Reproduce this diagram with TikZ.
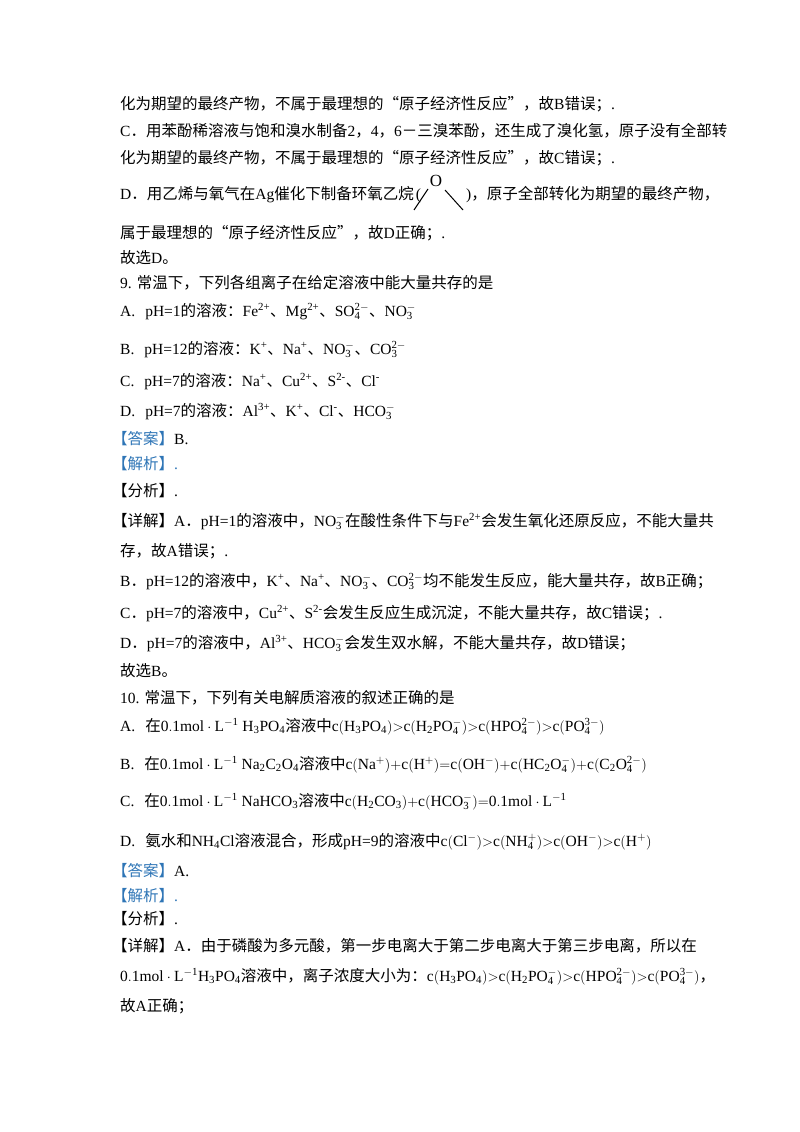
\documentclass[tikz,border=0pt]{standalone}
\usepackage{fontspec}
\setmainfont{Liberation Serif}
\newfontfamily\cjk{Noto Sans CJK SC}
\XeTeXinterchartokenstate=1
\newXeTeXintercharclass\cjkclass
\makeatletter
\def\setcjkrange#1#2{\count@=#1\relax\loop\XeTeXcharclass\count@=\cjkclass\ifnum\count@<#2\advance\count@ by 1\repeat}
\makeatother
\setcjkrange{"4E00}{"9FFF}
\setcjkrange{"3000}{"303F}
\setcjkrange{"FF00}{"FFEF}
\setcjkrange{"201C}{"201D}
\XeTeXinterchartoks 0 \cjkclass = {\begingroup\cjk}
\XeTeXinterchartoks 4095 \cjkclass = {\begingroup\cjk}
\XeTeXinterchartoks \cjkclass 0 = {\endgroup}
\XeTeXinterchartoks \cjkclass 4095 = {\endgroup}
\definecolor{ansblue}{RGB}{46,117,182}
\newcommand{\ch}[1]{$\mathrm{#1}$}
\begin{document}
\begin{tikzpicture}[x=1pt,y=-1pt,
  ln/.style={anchor=base west,inner sep=0pt,font=\fontsize{15.5}{18}\selectfont},
  bl/.style={ln,text=ansblue}]
\useasboundingbox (0,0) rectangle (800,1132);
\node[ln] (l1) at (120,109) {化为期望的最终产物，不属于最理想的“原子经济性反应”，故B错误；.};
\node[ln] (l2) at (120,136) {C．用苯酚稀溶液与饱和溴水制备2，4，6－三溴苯酚，还生成了溴化氢，原子没有全部转};
\node[ln] (l3) at (120,163) {化为期望的最终产物，不属于最理想的“原子经济性反应”，故C错误；.};
\node[ln] (l4a) at (120,199) {D．用乙烯与氧气在Ag催化下制备环氧乙烷\hspace{2pt}(};
\node[ln] (l4b) at (466,199) {)，原子全部转化为期望的最终产物，};
\draw[line width=1pt] (414,210) -- (428,189);
\node[inner sep=0pt,font=\fontsize{17}{18}\selectfont] (ox) at (436,181) {O};
\draw[line width=1pt] (445,190) -- (463,210);
\node[ln] (l5) at (120,238) {属于最理想的“原子经济性反应”，故D正确；.};
\node[ln] (l6) at (120,263) {故选D。};
\node[ln] (l7) at (120,288) {9. 常温下，下列各组离子在给定溶液中能大量共存的是};
\node[ln] (o1) at (120,316) {A.\hspace{10pt}pH=1的溶液：Fe\textsuperscript{2+}、Mg\textsuperscript{2+}、\ch{SO_4^{2-}}、\ch{NO_3^-}};
\node[ln] (o2) at (120,354) {B.\hspace{10pt}pH=12的溶液：K\textsuperscript{+}、Na\textsuperscript{+}、\ch{NO_3^-}、\ch{CO_3^{2-}}};
\node[ln] (o3) at (120,386) {C.\hspace{10pt}pH=7的溶液：Na\textsuperscript{+}、Cu\textsuperscript{2+}、S\textsuperscript{2-}、Cl\textsuperscript{-}};
\node[ln] (o4) at (120,416) {D.\hspace{10pt}pH=7的溶液：Al\textsuperscript{3+}、K\textsuperscript{+}、Cl\textsuperscript{-}、\ch{HCO_3^-}};
\node[bl] (a1) at (112,444) {【答案】\textcolor{black}{B.}};
\node[bl] (a2) at (112,469) {【解析】.};
\node[ln] (a3) at (112,496) {【分析】.};
\node[ln] (d1) at (112,526) {【详解】A．pH=1的溶液中，\ch{NO_3^-}在酸性条件下与Fe\textsuperscript{2+}会发生氧化还原反应，不能大量共};
\node[ln] (d2) at (120,556) {存，故A错误；.};
\node[ln] (d3) at (120,586) {B．pH=12的溶液中，K\textsuperscript{+}、Na\textsuperscript{+}、\ch{NO_3^-}、\ch{CO_3^{2-}}均不能发生反应，能大量共存，故B正确；};
\node[ln] (d4) at (120,618) {C．pH=7的溶液中，Cu\textsuperscript{2+}、S\textsuperscript{2-}会发生反应生成沉淀，不能大量共存，故C错误；.};
\node[ln] (d5) at (120,648) {D．pH=7的溶液中，Al\textsuperscript{3+}、\ch{HCO_3^-}会发生双水解，不能大量共存，故D错误；};
\node[ln] (d6) at (120,676) {故选B。};
\node[ln] (q10) at (120,703) {10. 常温下，下列有关电解质溶液的叙述正确的是};
\node[ln] (p1) at (120,731) {A.\hspace{10pt}在\ch{0.1mol\cdot L^{-1}\ H_3PO_4}溶液中\ch{c(H_3PO_4){>}c(H_2PO_4^-){>}c(HPO_4^{2-}){>}c(PO_4^{3-})}};
\node[ln] (p2) at (120,769) {B.\hspace{10pt}在\ch{0.1mol\cdot L^{-1}\ Na_2C_2O_4}溶液中\ch{c(Na^+){+}c(H^+){=}c(OH^-){+}c(HC_2O_4^-){+}c(C_2O_4^{2-})}};
\node[ln] (p3) at (120,806) {C.\hspace{10pt}在\ch{0.1mol\cdot L^{-1}\ NaHCO_3}溶液中\ch{c(H_2CO_3){+}c(HCO_3^-){=}0.1mol\cdot L^{-1}}};
\node[ln] (p4) at (120,846) {D.\hspace{10pt}氨水和NH\textsubscript{4}Cl溶液混合，形成pH=9的溶液中\ch{c(Cl^-){>}c(NH_4^+){>}c(OH^-){>}c(H^+)}};
\node[bl] (b1) at (112,876) {【答案】\textcolor{black}{A.}};
\node[bl] (b2) at (112,901) {【解析】.};
\node[ln] (b3) at (112,924) {【分析】.};
\node[ln] (e1) at (112,951) {【详解】A．由于磷酸为多元酸，第一步电离大于第二步电离大于第三步电离，所以在};
\node[ln] (e2) at (120,981) {\ch{0.1mol\cdot L^{-1}H_3PO_4}溶液中，离子浓度大小为：\ch{c(H_3PO_4){>}c(H_2PO_4^-){>}c(HPO_4^{2-}){>}c(PO_4^{3-})}，};
\node[ln] (e3) at (120,1011) {故A正确；};
\end{tikzpicture}
\end{document}
